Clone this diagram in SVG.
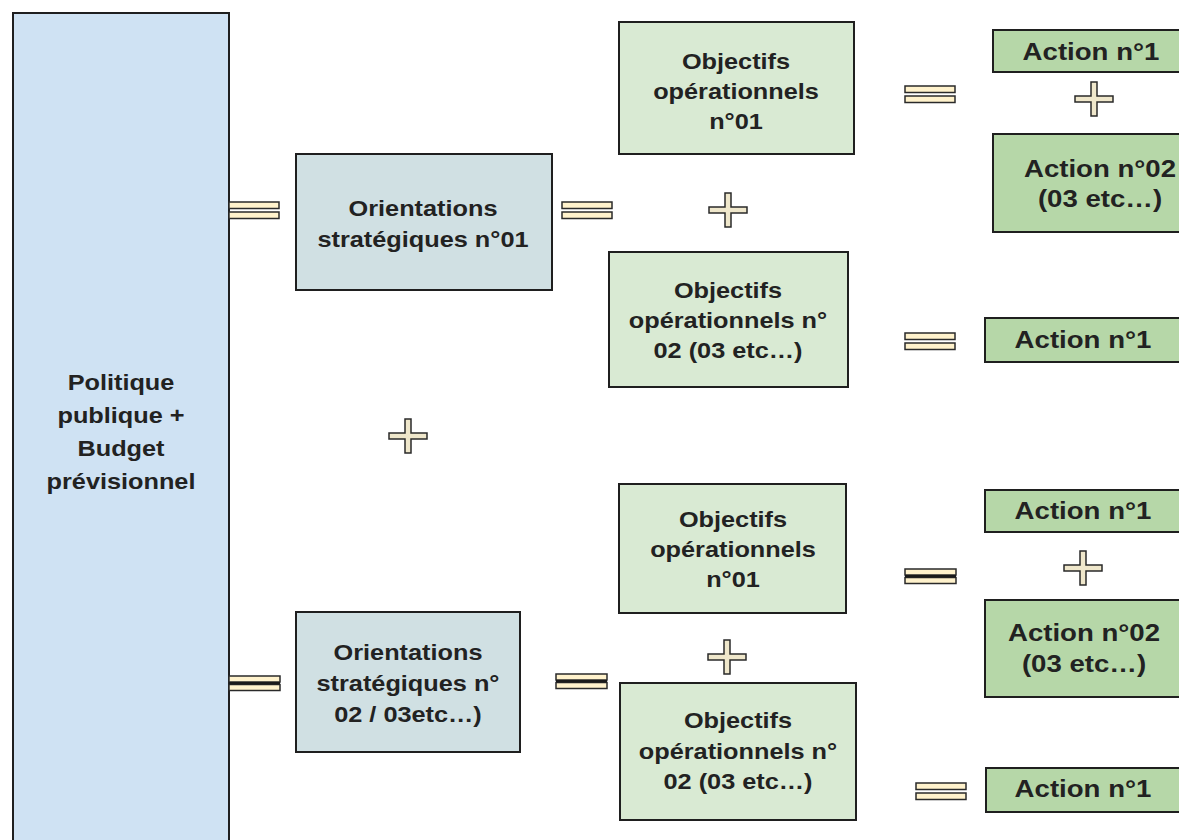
<svg xmlns="http://www.w3.org/2000/svg" width="1179" height="840" viewBox="0 0 1179 840">
<style>
  .box{stroke:#1f1f1f;stroke-width:2}
  .pol{fill:#cfe2f3}
  .ori{fill:#d0e0e3}
  .obj{fill:#d9ead3}
  .act{fill:#b6d7a8}
  text{font-family:"Liberation Sans",Arial,Helvetica,sans-serif;font-weight:bold;fill:#222;text-anchor:middle}
  .t22{font-size:22px}
  .t24{font-size:24px}
  .eqbar{fill:#fff2cc;stroke:#2a2a2a;stroke-width:1.5}
  .plus{fill:#efe7cb;stroke:#2a2a2a;stroke-width:1.5;stroke-linejoin:miter}
</style>
<defs>
  <g id="eq">
    <rect class="eqbar" x="0" y="0" width="50" height="6.5"/>
    <rect class="eqbar" x="0" y="10" width="50" height="6.5"/>
  </g>
  <g id="eq2">
    <rect class="eqbar" x="0" y="0" width="51" height="6"/>
    <rect class="eqbar" x="0" y="8.5" width="51" height="6"/>
    <line x1="0" y1="7.2" x2="51" y2="7.2" stroke="#1a1a1a" stroke-width="2.5"/>
  </g>
  <polygon id="plus" class="plus" points="-19,-3 -3,-3 -3,-17 3,-17 3,-3 19,-3 19,3 3,3 3,17 -3,17 -3,3 -19,3"/>
</defs>
<rect width="1179" height="840" fill="#ffffff"/>

<g id="politique">
  <rect class="box pol" x="13" y="13" width="216" height="840"/>
  <g transform="translate(121 0) scale(1.15 1)">
    <text class="t22" x="0" y="390">Politique</text>
    <text class="t22" x="0" y="423">publique +</text>
    <text class="t22" x="0" y="456">Budget</text>
    <text class="t22" x="0" y="489">prévisionnel</text>
  </g>
</g>

<g id="orientation1">
  <rect class="box ori" x="296" y="154" width="256" height="136"/>
  <g transform="translate(423 0) scale(1.15 1)">
    <text class="t22" x="0" y="216">Orientations</text>
    <text class="t22" x="0" y="247">stratégiques n°01</text>
  </g>
</g>

<g id="orientation2">
  <rect class="box ori" x="296" y="612" width="224" height="140"/>
  <g transform="translate(408 0) scale(1.15 1)">
    <text class="t22" x="0" y="660">Orientations</text>
    <text class="t22" x="0" y="691">stratégiques n°</text>
    <text class="t22" x="0" y="722">02 / 03etc…)</text>
  </g>
</g>

<g id="objectif1a">
  <rect class="box obj" x="619" y="22" width="235" height="132"/>
  <g transform="translate(736 0) scale(1.15 1)">
    <text class="t22" x="0" y="69">Objectifs</text>
    <text class="t22" x="0" y="99">opérationnels</text>
    <text class="t22" x="0" y="129">n°01</text>
  </g>
</g>

<g id="objectif2a">
  <rect class="box obj" x="609" y="252" width="239" height="135"/>
  <g transform="translate(728 0) scale(1.15 1)">
    <text class="t22" x="0" y="298">Objectifs</text>
    <text class="t22" x="0" y="328">opérationnels n°</text>
    <text class="t22" x="0" y="358">02 (03 etc…)</text>
  </g>
</g>

<g id="objectif1b">
  <rect class="box obj" x="619" y="484" width="227" height="129"/>
  <g transform="translate(733 0) scale(1.15 1)">
    <text class="t22" x="0" y="527">Objectifs</text>
    <text class="t22" x="0" y="557">opérationnels</text>
    <text class="t22" x="0" y="587">n°01</text>
  </g>
</g>

<g id="objectif2b">
  <rect class="box obj" x="620" y="683" width="236" height="137"/>
  <g transform="translate(738 0) scale(1.15 1)">
    <text class="t22" x="0" y="728">Objectifs</text>
    <text class="t22" x="0" y="759">opérationnels n°</text>
    <text class="t22" x="0" y="789">02 (03 etc…)</text>
  </g>
</g>

<g id="action1a">
  <rect class="box act" x="993" y="30" width="200" height="42"/>
  <g transform="translate(1091 0) scale(1.15 1)">
    <text class="t24" x="0" y="60">Action n°1</text>
  </g>
</g>

<g id="action2a">
  <rect class="box act" x="993" y="134" width="200" height="98"/>
  <g transform="translate(1100 0) scale(1.15 1)">
    <text class="t24" x="0" y="177">Action n°02</text>
    <text class="t24" x="0" y="207">(03 etc…)</text>
  </g>
</g>

<g id="action1b">
  <rect class="box act" x="985" y="318" width="210" height="44"/>
  <g transform="translate(1083 0) scale(1.15 1)">
    <text class="t24" x="0" y="348">Action n°1</text>
  </g>
</g>

<g id="action1c">
  <rect class="box act" x="985" y="490" width="210" height="42"/>
  <g transform="translate(1083 0) scale(1.15 1)">
    <text class="t24" x="0" y="519">Action n°1</text>
  </g>
</g>

<g id="action2c">
  <rect class="box act" x="985" y="600" width="210" height="97"/>
  <g transform="translate(1084 0) scale(1.15 1)">
    <text class="t24" x="0" y="641">Action n°02</text>
    <text class="t24" x="0" y="672">(03 etc…)</text>
  </g>
</g>

<g id="action1d">
  <rect class="box act" x="986" y="768" width="210" height="44"/>
  <g transform="translate(1083 0) scale(1.15 1)">
    <text class="t24" x="0" y="797">Action n°1</text>
  </g>
</g>

<g id="connectors">
  <use href="#eq" x="229" y="202"/>
  <use href="#eq" x="562" y="202"/>
  <use href="#eq" x="905" y="86"/>
  <use href="#eq" x="905" y="333"/>
  <use href="#eq2" x="905" y="569"/>
  <use href="#eq2" x="229" y="676"/>
  <use href="#eq2" x="556" y="674"/>
  <use href="#eq" x="916" y="783"/>
  <use href="#plus" x="728" y="210"/>
  <use href="#plus" x="1094" y="99"/>
  <use href="#plus" x="408" y="436"/>
  <use href="#plus" x="727" y="657"/>
  <use href="#plus" x="1083" y="568"/>
</g>
</svg>
